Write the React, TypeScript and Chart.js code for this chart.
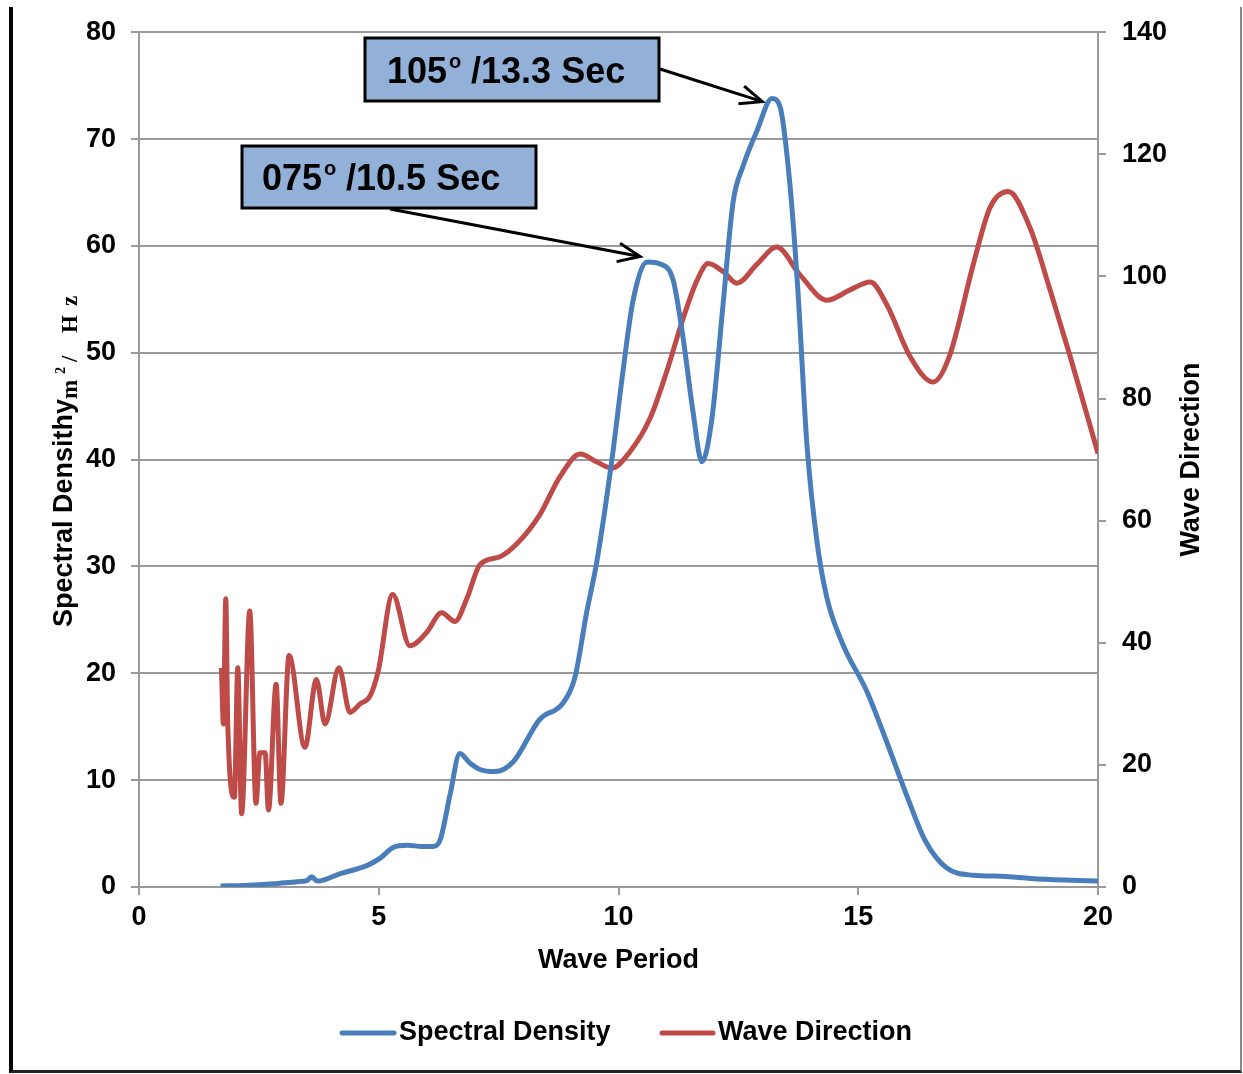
import React, { useEffect, useRef } from "react";
import { Chart, registerables } from "chart.js";

Chart.register(...registerables);

// Spectral density (left axis) vs wave period
const sdPeriod = [1.7, 2.2, 2.8, 3.3, 3.5, 3.6, 3.72, 4.2, 4.75, 5.03, 5.3, 5.6, 5.9, 6.14, 6.28, 6.49, 6.69, 6.9, 7.11, 7.42, 7.8, 8.36, 8.84, 9.09, 9.34, 9.55, 9.86, 10.1, 10.3, 10.6, 10.87, 11.14, 11.35, 11.55, 11.74, 11.95, 12.18, 12.39, 12.6, 12.89, 13.2, 13.37, 13.58, 13.74, 13.93, 14.14, 14.35, 14.68, 15.18, 15.6, 16.0, 16.4, 16.84, 17.4, 18.0, 18.6, 19.3, 20.0];
const sdDensity = [0.1, 0.15, 0.3, 0.5, 0.6, 0.95, 0.55, 1.25, 2.0, 2.7, 3.7, 3.9, 3.8, 3.8, 4.4, 8.7, 12.5, 11.6, 11.0, 10.8, 11.7, 15.7, 17.2, 19.6, 25.8, 30.5, 39.9, 48.5, 54.8, 58.5, 58.3, 56.8, 51.3, 44.6, 39.8, 43.9, 54.5, 64.1, 67.5, 70.8, 73.8, 73.0, 65.5, 55.9, 41.4, 32.3, 27, 22.7, 18.3, 13.5, 8.7, 4.3, 1.8, 1.1, 1.0, 0.8, 0.65, 0.55];

// Wave direction (right axis) vs wave period
const wdPeriod = [1.72, 1.76, 1.81, 1.85, 1.99, 2.06, 2.14, 2.31, 2.44, 2.52, 2.63, 2.7, 2.86, 2.96, 3.13, 3.46, 3.7, 3.88, 4.17, 4.4, 4.61, 4.82, 4.99, 5.29, 5.65, 6.0, 6.31, 6.59, 6.84, 7.11, 7.53, 7.88, 8.36, 8.78, 9.2, 9.55, 9.86, 10.24, 10.66, 11.0, 11.35, 11.64, 11.87, 12.18, 12.47, 12.89, 13.3, 13.78, 14.35, 14.83, 15.25, 15.6, 16.08, 16.56, 16.9, 17.4, 17.75, 18.13, 18.58, 19.0, 19.42, 20.0];
const wdDirection = [35.9, 26.7, 47.2, 27, 14.7, 35.9, 12, 45.2, 13.7, 22, 22, 12.6, 33.2, 13.7, 37.9, 22.9, 34, 26.7, 35.9, 28.6, 30, 31.3, 35.4, 47.9, 39.5, 41.7, 44.9, 43.5, 47.3, 52.8, 54.1, 56.2, 61, 67.2, 70.9, 69.6, 68.6, 71.3, 76.8, 84.3, 93.2, 99.4, 102.1, 100.8, 98.9, 102, 104.8, 100.3, 96.1, 97.8, 99.1, 95.3, 86.9, 82.7, 86.9, 102, 111.3, 113.9, 108, 97.8, 86.9, 71];

// Callouts (peak direction / period) and where their arrows point
const calloutDirection = ["075", "105"];
const calloutPeriodLabel = ["10.5", "13.3"];
const calloutTipPeriod = [10.45, 13.0];
const calloutTipDensity = [59.0, 73.5];

const seriesNames = ["Spectral Density", "Wave Direction"];
const xTitle = "Wave Period";
const yTitleMain = "Spectral Densithy";
const y2Title = "Wave Direction";

const BLUE = "#4A7EBB";
const RED = "#BE4B48";
const GRID = "#9a9a9a";
const SANS = '"Liberation Sans", Arial, sans-serif';
const SERIF = '"Liberation Serif", "Times New Roman", serif';

const boxes = [
  { x: 242, y: 146, w: 294, h: 62, tx: 262, ty: 190, ax: 390, ay: 209 },
  { x: 365, y: 38, w: 294, h: 63, tx: 387, ty: 83, ax: 660, ay: 69 },
];

function arrow(ctx: CanvasRenderingContext2D, x1: number, y1: number, x2: number, y2: number) {
  ctx.beginPath();
  ctx.moveTo(x1, y1);
  ctx.lineTo(x2, y2);
  ctx.stroke();
  const ang = Math.atan2(y2 - y1, x2 - x1);
  const len = 24;
  const spread = 0.4;
  ctx.beginPath();
  ctx.moveTo(x2 - len * Math.cos(ang - spread), y2 - len * Math.sin(ang - spread));
  ctx.lineTo(x2, y2);
  ctx.lineTo(x2 - len * Math.cos(ang + spread), y2 - len * Math.sin(ang + spread));
  ctx.stroke();
}

const overlay = {
  id: "overlay",
  afterDraw(chart: any) {
    const ctx: CanvasRenderingContext2D = chart.ctx;
    const { left, right, top, bottom } = chart.chartArea;
    const xs = chart.scales.x;
    const ys = chart.scales.y;
    ctx.save();
    ctx.fillStyle = "#000";
    ctx.textAlign = "center";
    ctx.textBaseline = "middle";
    ctx.font = `bold 27px ${SANS}`;
    ctx.fillText(xTitle, (left + right) / 2, 961);

    // right title
    ctx.save();
    ctx.translate(1192, (top + bottom) / 2);
    ctx.rotate(-Math.PI / 2);
    ctx.fillText(y2Title, 0, 0);
    ctx.restore();

    // left title (mixed fonts)
    ctx.save();
    ctx.translate(72, 0);
    ctx.rotate(-Math.PI / 2);
    ctx.textAlign = "left";
    ctx.textBaseline = "alphabetic";
    ctx.font = `bold 27px ${SANS}`;
    ctx.fillText(yTitleMain, -627, 0);
    ctx.font = `bold 23px ${SERIF}`;
    ctx.fillText("m", -399, 5);
    ctx.fillText("/", -362, 5);
    ctx.fillText("H", -333, 5);
    ctx.fillText("z", -306, 5);
    ctx.font = `bold 14px ${SERIF}`;
    ctx.fillText("2", -374, -7);
    ctx.restore();

    // legend
    ctx.lineCap = "round";
    ctx.lineWidth = 5;
    ctx.strokeStyle = BLUE;
    ctx.beginPath();
    ctx.moveTo(342, 1033);
    ctx.lineTo(394, 1033);
    ctx.stroke();
    ctx.strokeStyle = RED;
    ctx.beginPath();
    ctx.moveTo(662, 1033);
    ctx.lineTo(713, 1033);
    ctx.stroke();
    ctx.textAlign = "left";
    ctx.textBaseline = "middle";
    ctx.font = `bold 27px ${SANS}`;
    ctx.fillStyle = "#000";
    ctx.fillText(seriesNames[0], 399, 1033);
    ctx.fillText(seriesNames[1], 718, 1033);

    // callouts
    ctx.lineCap = "butt";
    boxes.forEach((b, i) => {
      ctx.fillStyle = "#93B0D8";
      ctx.fillRect(b.x, b.y, b.w, b.h);
      ctx.lineWidth = 3;
      ctx.strokeStyle = "#000";
      ctx.strokeRect(b.x, b.y, b.w, b.h);
      ctx.fillStyle = "#000";
      ctx.textBaseline = "alphabetic";
      ctx.textAlign = "left";
      ctx.font = `bold 36px ${SANS}`;
      const t1 = calloutDirection[i];
      ctx.fillText(t1, b.tx, b.ty);
      const w1 = ctx.measureText(t1).width;
      ctx.font = `bold 20px ${SANS}`;
      ctx.fillText("o", b.tx + w1 + 2, b.ty - 15);
      ctx.font = `bold 36px ${SANS}`;
      ctx.fillText(`/${calloutPeriodLabel[i]} Sec`, b.tx + w1 + 24, b.ty);
      ctx.lineWidth = 3;
      const tx = xs.getPixelForValue(calloutTipPeriod[i]);
      const ty = ys.getPixelForValue(calloutTipDensity[i]);
      arrow(ctx, b.ax, b.ay, tx, ty);
    });
    ctx.restore();
  },
};

export default function App() {
  const ref = useRef<HTMLCanvasElement | null>(null);
  useEffect(() => {
    if (!ref.current) return;
    const tickFont = { family: SANS, size: 27, weight: "bold" as const };
    const chart = new Chart(ref.current, {
      type: "line",
      data: {
        datasets: [
          {
            label: seriesNames[0],
            data: sdPeriod.map((p, i) => ({ x: p, y: sdDensity[i] })),
            borderColor: BLUE,
            backgroundColor: BLUE,
            borderWidth: 5,
            pointRadius: 0,
            cubicInterpolationMode: "monotone",
            yAxisID: "y",
          },
          {
            label: seriesNames[1],
            data: wdPeriod.map((p, i) => ({ x: p, y: wdDirection[i] })),
            borderColor: RED,
            backgroundColor: RED,
            borderWidth: 5,
            pointRadius: 0,
            cubicInterpolationMode: "monotone",
            yAxisID: "y1",
          },
        ],
      },
      options: {
        responsive: false,
        animation: false,
        devicePixelRatio: 1,
        layout: { padding: { top: 29, left: 0, right: 0, bottom: 0 } },
        plugins: { legend: { display: false }, tooltip: { enabled: false } },
        scales: {
          x: {
            type: "linear",
            min: 0,
            max: 20,
            ticks: { stepSize: 5, color: "#000", font: tickFont, padding: 6 },
            grid: { drawOnChartArea: false, drawTicks: true, tickLength: 8, color: GRID, lineWidth: 2 },
            border: { color: GRID, width: 2 },
            afterFit: (s: any) => { s.height = 187; },
          },
          y: {
            position: "left",
            min: 0,
            max: 80,
            ticks: { stepSize: 10, color: "#000", font: tickFont, padding: 15 },
            grid: { color: GRID, lineWidth: 2, tickLength: 8 },
            border: { color: GRID, width: 2 },
            afterFit: (s: any) => { s.width = 139; },
          },
          y1: {
            position: "right",
            min: 0,
            max: 140,
            ticks: { stepSize: 20, color: "#000", font: tickFont, padding: 16 },
            grid: { drawOnChartArea: false, tickLength: 8, color: GRID, lineWidth: 2 },
            border: { color: GRID, width: 2 },
            afterFit: (s: any) => { s.width = 145; },
          },
        },
      },
      plugins: [overlay],
    });
    return () => chart.destroy();
  }, []);
  return (
    <>
      <canvas
        ref={ref}
        width={1243}
        height={1074}
        style={{ position: "fixed", left: 0, top: 0, width: 1243, height: 1074, background: "#fff" }}
      />
      <div
        style={{
          position: "fixed",
          left: 9,
          top: 7,
          width: 1233,
          height: 1066,
          boxSizing: "border-box",
          borderLeft: "4px solid #000",
          borderBottom: "3px solid #222",
          borderRight: "2px solid #888",
          pointerEvents: "none",
        }}
      />
    </>
  );
}
